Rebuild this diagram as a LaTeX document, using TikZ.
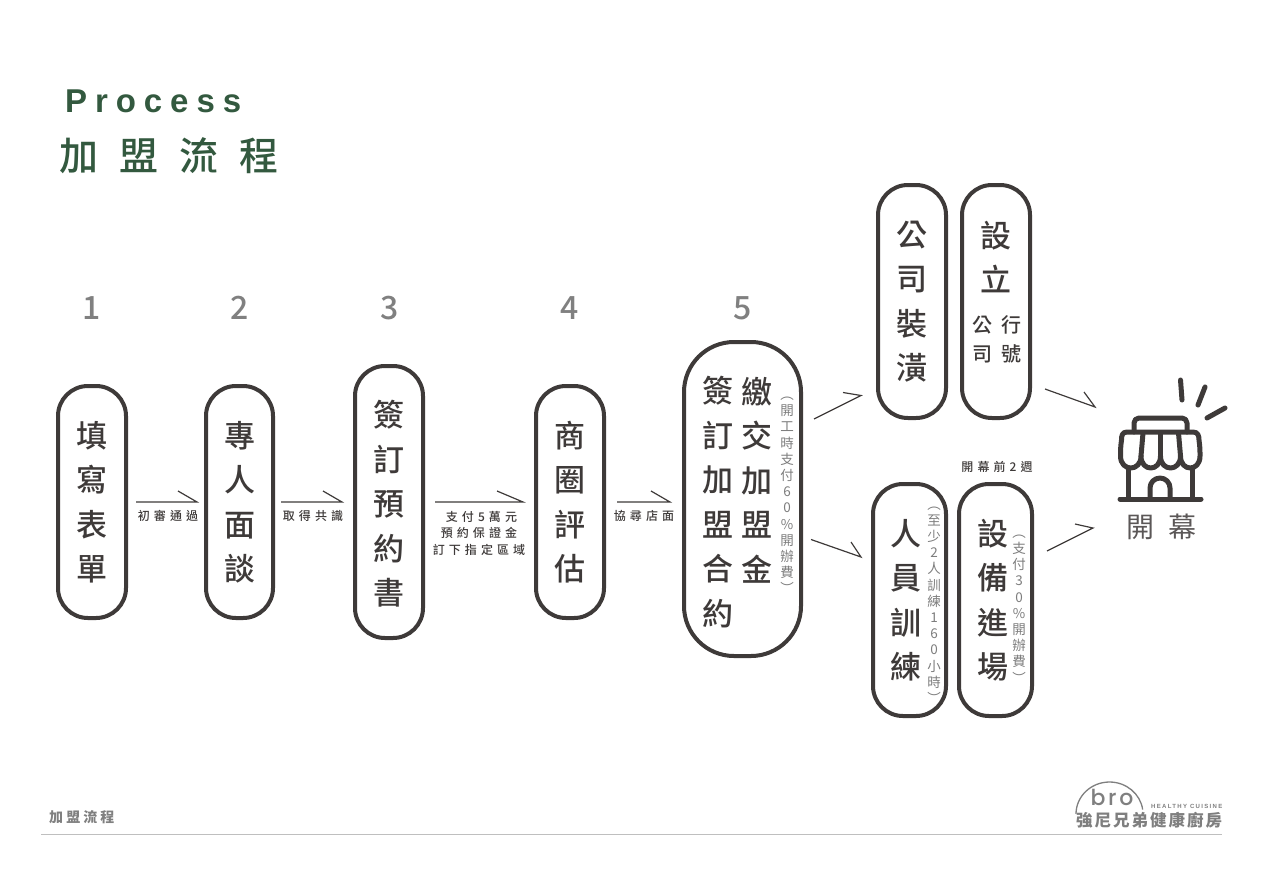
\documentclass[tikz,border=0pt]{standalone}
\usepackage{fontspec}
\setmainfont{Noto Sans CJK TC Medium}
\newfontfamily\lightcjk{Noto Sans CJK TC}
\newfontfamily\procfont[LetterSpace=24]{Liberation Sans}
\newfontfamily\titlefont[LetterSpace=54]{Noto Sans CJK TC Medium}
\newfontfamily\smallfont[LetterSpace=34]{Noto Sans CJK TC Medium}
\newfontfamily\openfont[LetterSpace=50]{Noto Sans CJK TC}
\newfontfamily\footfont[LetterSpace=22]{Noto Sans CJK TC}
\newfontfamily\logofont[LetterSpace=12]{Noto Sans CJK TC}
\newfontfamily\latinlogo[LetterSpace=22]{Liberation Sans}
\newfontfamily\brofont[LetterSpace=12]{Poppins Medium}
\definecolor{ink}{HTML}{3E3A39}
\definecolor{forest}{HTML}{33593F}
\definecolor{numgray}{HTML}{808080}
\definecolor{sidegray}{HTML}{7D7D7D}
\definecolor{logogray}{HTML}{7F7F7F}
\tikzset{
  stepbox/.style={draw=ink,line width=4pt,rounded corners=#1,inner sep=0pt,align=center,text=ink,
    font=\fontsize{31}{44.5}\selectfont},
  stepbox/.default=30pt,
  bigtext/.style={inner sep=0pt,align=center,text=ink,font=\fontsize{31}{44.5}\selectfont},
  sidetext/.style={inner sep=0pt,align=center,text=sidegray,font=\fontsize{13.5}{16.2}\selectfont\lightcjk},
  smalllabel/.style={inner sep=0pt,align=center,text=ink,font=\fontsize{12}{16.5}\selectfont\smallfont},
  numlabel/.style={inner sep=0pt,text=numgray,font=\fontsize{32}{36}\selectfont},
  halfarrow/.style={draw=ink,line width=1.2pt,line join=miter},
  icon/.style={draw=ink,line width=5pt,line cap=round,line join=round},
}
\begin{document}
\begin{tikzpicture}[x=1pt,y=-1pt]
\useasboundingbox (0,0) rectangle (1265,881);

% titles
\node[inner sep=0pt,anchor=base west,text=forest,font=\fontsize{33}{36}\selectfont\procfont\bfseries] (proc) at (65,112) {Process};
\node[inner sep=0pt,anchor=west,text=forest,font=\fontsize{39}{42}\selectfont\titlefont] (title) at (59,156) {加盟流程};

% numbers
\node[numlabel] (n1) at (91.5,308) {1};
\node[numlabel] (n2) at (239.5,308) {2};
\node[numlabel] (n3) at (389.5,308) {3};
\node[numlabel] (n4) at (569.5,308) {4};
\node[numlabel] (n5) at (742.5,308) {5};

% step boxes
\node[stepbox,minimum width=68pt,minimum height=232pt] (b1) at (92,502) {填\\寫\\表\\單};
\node[stepbox,minimum width=67pt,minimum height=232pt] (b2) at (239.5,502) {專\\人\\面\\談};
\node[stepbox,minimum width=68pt,minimum height=272pt] (b3) at (389,502) {};
\node[bigtext] (b3a) at (389,504) {簽\\訂\\預\\約\\書};
\node[stepbox,minimum width=68pt,minimum height=232pt] (b4) at (570,502) {商\\圈\\評\\估};
\node[stepbox=50pt,minimum width=117pt,minimum height=314pt] (b5) at (742.5,499) {};
\node[bigtext] (b5a) at (718,502) {簽\\訂\\加\\盟\\合\\約};
\node[bigtext] (b5b) at (757,480) {繳\\交\\加\\盟\\金};
\node[sidetext] (b5c) at (787,495.5) {︵\\開\\工\\時\\支\\付\\6\\0\\\%\\開\\辦\\費\\︶};

\node[stepbox,minimum width=68pt,minimum height=233pt] (b6) at (912,301.5) {公\\司\\裝\\潢};
\node[stepbox,minimum width=68pt,minimum height=233pt] (b7) at (996,301.5) {};
\node[bigtext] (b7a) at (996,257) {設\\立};
\node[inner sep=0pt,align=center,text=ink,font=\fontsize{20}{29}\selectfont] (b7b) at (982,339.5) {公\\司};
\node[inner sep=0pt,align=center,text=ink,font=\fontsize{20}{29}\selectfont] (b7c) at (1011,339.5) {行\\號};

\node[stepbox,minimum width=73pt,minimum height=232pt] (b8) at (909.5,600) {};
\node[bigtext] (b8a) at (906,600) {人\\員\\訓\\練};
\node[sidetext] (b8b) at (934,605) {︵\\至\\少\\2\\人\\訓\\練\\1\\6\\0\\小\\時\\︶};
\node[stepbox,minimum width=73pt,minimum height=232pt] (b9) at (995.5,600) {};
\node[bigtext] (b9a) at (993,600) {設\\備\\進\\場};
\node[sidetext] (b9b) at (1019,609) {︵\\支\\付\\3\\0\\\%\\開\\辦\\費\\︶};
\node[inner sep=0pt,text=ink,font=\fontsize{12}{14}\selectfont\smallfont] (pre) at (997,467) {開幕前2週};

% arrow labels
\node[smalllabel] (l1) at (168,516) {初審通過};
\node[smalllabel] (l2) at (313,516) {取得共識};
\node[smalllabel] (l3) at (479,533) {\hspace*{5pt}支付5萬元\\預約保證金\\訂下指定區域};
\node[smalllabel] (l4) at (644,516) {協尋店面};

% half arrows
\coordinate (a1s) at (136,502); \coordinate (a1t) at (197,502); \coordinate (a1b) at (178,491);
\coordinate (a2s) at (281,502); \coordinate (a2t) at (342,502); \coordinate (a2b) at (323,491);
\coordinate (a3s) at (435,502); \coordinate (a3t) at (523,502); \coordinate (a3b) at (497,491);
\coordinate (a4s) at (617,502); \coordinate (a4t) at (670,502); \coordinate (a4b) at (651,491);
\coordinate (a5s) at (814,419); \coordinate (a5t) at (861,395.5); \coordinate (a5b) at (843,392.5);
\coordinate (a6s) at (811,539.5); \coordinate (a6t) at (861,557); \coordinate (a6b) at (851,542);
\coordinate (a7s) at (1045,389); \coordinate (a7t) at (1095,407); \coordinate (a7b) at (1084,392);
\coordinate (a8s) at (1047,551); \coordinate (a8t) at (1093,528); \coordinate (a8b) at (1075,524);
\foreach \k in {1,...,8}{\draw[halfarrow] (a\k s) -- (a\k t) -- (a\k b);}

% shop icon
\draw[icon,rounded corners=5pt] (1134,432) -- (1134,418) -- (1187,418) -- (1187,432);
\draw[icon] (1127,432) -- (1193,432)
  .. controls (1198,432) and (1199,436) .. (1199,440)
  .. controls (1200,447) and (1200,451) .. (1200,456)
  .. controls (1200,472) and (1180.5,472) .. (1180.5,456)
  .. controls (1180.5,472) and (1160.5,472) .. (1160.5,456)
  .. controls (1160.5,472) and (1141,472) .. (1141,456)
  .. controls (1141,472) and (1120.5,472) .. (1120.5,456)
  .. controls (1120.5,451) and (1120.5,447) .. (1121.5,440)
  .. controls (1121.5,436) and (1122,432) .. (1127,432) -- cycle;
\draw[icon] (1141,456) -- (1143,433);
\draw[icon] (1160.5,456) -- (1160.5,433);
\draw[icon] (1180.5,456) -- (1178.5,433);
\draw[icon] (1128,469) -- (1128,499);
\draw[icon] (1192,469) -- (1192,499);
\draw[icon] (1120,499) -- (1201,499);
\draw[icon] (1150,499) -- (1150,488) arc[start angle=180,end angle=360,radius=10] -- (1170,499);
\draw[icon] (1180.5,380) -- (1182,400);
\draw[icon] (1205,387) -- (1198,405);
\draw[icon] (1225,408) -- (1207,418);
\node[inner sep=0pt,text=ink!85,font=\fontsize{28}{30}\selectfont\openfont] (open) at (1161,527) {開幕};

% footer
\node[inner sep=0pt,anchor=west,text=numgray,font=\fontsize{14}{16}\selectfont\footfont\bfseries] (foot) at (49,817) {加盟流程};
\coordinate (ruleL) at (41,834.5); \coordinate (ruleR) at (1222,834.5);
\draw[draw=black!25,line width=.8pt] (ruleL) -- (ruleR);

% logo
\coordinate (arcL) at (1076,814);
\draw[draw=logogray,line width=1.3pt] (arcL) arc[start angle=180,end angle=352,x radius=33.5,y radius=32];
\node[inner sep=0pt,text=logogray,font=\fontsize{22}{24}\selectfont\brofont] (bro) at (1112,797.5) {bro};
\node[inner sep=0pt,anchor=west,text=logogray,font=\fontsize{6}{8}\selectfont\latinlogo\bfseries] (hc) at (1151,806) {HEALTHY CUISINE};
\node[inner sep=0pt,anchor=west,text=logogray,font=\fontsize{16.5}{18}\selectfont\logofont\bfseries] (brand) at (1076,820) {強尼兄弟健康廚房};
\end{tikzpicture}
\end{document}
